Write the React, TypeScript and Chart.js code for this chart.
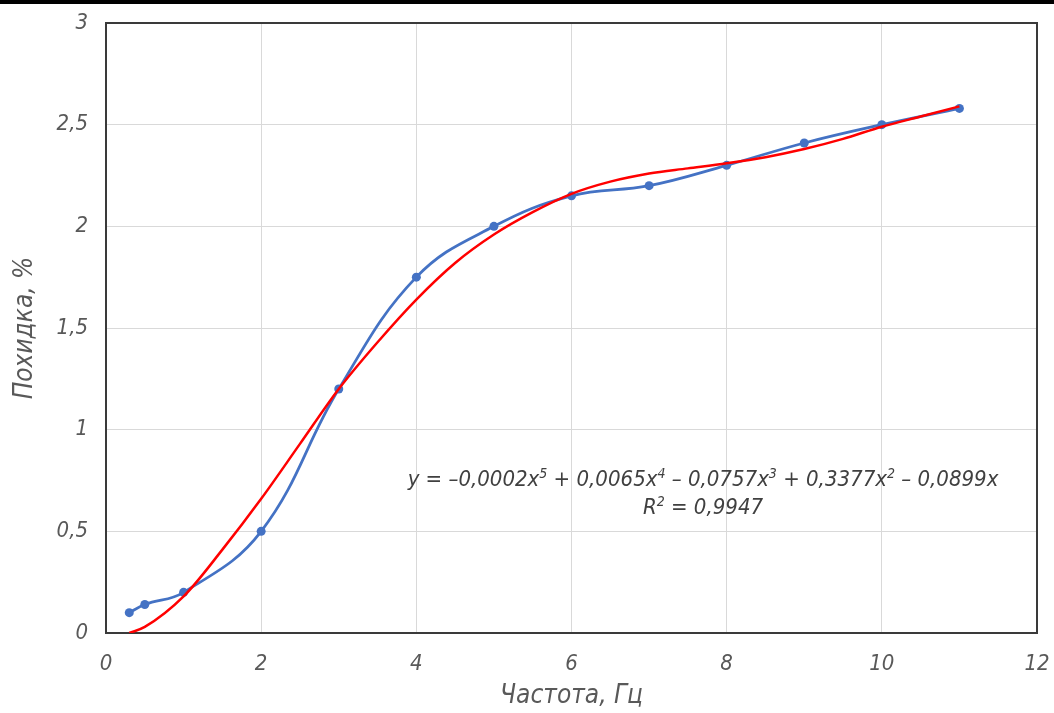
import React, { useEffect, useRef } from "react";
import { Chart, registerables } from "chart.js";

Chart.register(...registerables);

// Measured data (blue series)
const freqHz = [0.3, 0.5, 1, 2, 3, 4, 5, 6, 7, 8, 9, 10, 11];
const deflectionPct = [0.1, 0.14, 0.2, 0.5, 1.2, 1.75, 2.0, 2.15, 2.2, 2.3, 2.41, 2.5, 2.58];

// Polynomial trend line (red)
const trendX = [0.3, 0.5, 1, 1.5, 2, 2.5, 3, 3.5, 4, 4.5, 5, 5.5, 6, 6.5, 7, 7.5, 8, 8.5, 9, 9.5, 10, 10.5, 11];
const trendY = [0.0, 0.03, 0.18, 0.41, 0.66, 0.93, 1.2, 1.43, 1.64, 1.82, 1.96, 2.07, 2.16, 2.22, 2.26, 2.285, 2.31, 2.34, 2.38, 2.43, 2.49, 2.54, 2.59];

// Axis ticks
const xTicks = [0, 2, 4, 6, 8, 10, 12];
const yTicks = [0, 0.5, 1, 1.5, 2, 2.5, 3];

// Texts
const xTitle = "Частота, Гц";
const yTitle = "Похидка, %";
// odd indices are superscripts
const eqParts = ["y = –0,0002x", "5", " + 0,0065x", "4", " – 0,0757x", "3", " + 0,3377x", "2", " – 0,0899x"];
const r2Parts = ["R", "2", " = 0,9947"];

const FONT = '"Liberation Sans Narrow", "DejaVu Sans Condensed", "Liberation Sans", sans-serif';
const GREY = "#595959";

function drawRich(ctx: CanvasRenderingContext2D, parts: string[], cx: number, cy: number, size: number) {
  const main = `italic ${size}px ${FONT}`;
  const sup = `italic ${Math.round(size * 0.62)}px ${FONT}`;
  let total = 0;
  const widths = parts.map((p, i) => {
    ctx.font = i % 2 ? sup : main;
    const w = ctx.measureText(p).width;
    total += w;
    return w;
  });
  let x = cx - total / 2;
  ctx.textBaseline = "alphabetic";
  ctx.textAlign = "left";
  parts.forEach((p, i) => {
    ctx.font = i % 2 ? sup : main;
    const y = i % 2 ? cy - size * 0.38 : cy;
    ctx.fillText(p, x, y);
    x += widths[i];
  });
}

const decor = {
  id: "decor",
  beforeDraw(chart: any) {
    const ctx = chart.ctx as CanvasRenderingContext2D;
    ctx.save();
    ctx.fillStyle = "#ffffff";
    ctx.fillRect(0, 0, chart.width, chart.height);
    ctx.fillStyle = "#000000";
    ctx.fillRect(0, 0, chart.width, 4);
    ctx.restore();
  },
  beforeDatasetsDraw(chart: any) {
    const ctx = chart.ctx as CanvasRenderingContext2D;
    const a = chart.chartArea;
    ctx.save();
    ctx.strokeStyle = "#3a3a3a";
    ctx.lineWidth = 2;
    ctx.strokeRect(a.left, a.top, a.right - a.left, a.bottom - a.top);
    ctx.restore();
  },
  afterDatasetsDraw(chart: any) {
    const ctx = chart.ctx as CanvasRenderingContext2D;
    ctx.save();
    ctx.fillStyle = "#404040";
    drawRich(ctx, eqParts, 703, 486, 22);
    drawRich(ctx, r2Parts, 703, 514, 22);
    ctx.restore();
  },
};

function zeroPad(s: any) {
  s.paddingTop = 0;
  s.paddingBottom = 0;
  s.paddingLeft = 0;
  s.paddingRight = 0;
}

export default function App() {
  const ref = useRef<HTMLCanvasElement | null>(null);

  useEffect(() => {
    if (!ref.current) return;
    const tickFont = { family: FONT, size: 22, style: "italic" as const };
    const chart = new Chart(ref.current, {
      type: "line",
      data: {
        datasets: [
          {
            label: "Похидка",
            data: freqHz.map((x, i) => ({ x, y: deflectionPct[i] })),
            borderColor: "#4472C4",
            backgroundColor: "#4472C4",
            borderWidth: 2.75,
            pointRadius: 4.5,
            pointBorderWidth: 0,
            tension: 0.4,
            order: 2,
          },
          {
            label: "Тренд",
            data: trendX.map((x, i) => ({ x, y: trendY[i] })),
            borderColor: "#FF0000",
            backgroundColor: "#FF0000",
            borderWidth: 2.5,
            pointRadius: 0,
            cubicInterpolationMode: "monotone",
            order: 1,
          },
        ],
      },
      options: {
        responsive: false,
        animation: false,
        layout: { padding: { top: 23, right: 17, left: 0, bottom: 0 } },
        plugins: { legend: { display: false }, tooltip: { enabled: false } },
        scales: {
          x: {
            type: "linear",
            min: 0,
            max: 12,
            afterBuildTicks: (s: any) => {
              s.ticks = xTicks.map((v) => ({ value: v }));
            },
            afterFit: (s: any) => {
              s.height = 80;
              zeroPad(s);
            },
            grid: { color: "#d9d9d9", lineWidth: 1, drawTicks: false },
            border: { display: false },
            ticks: {
              color: GREY,
              font: tickFont,
              padding: 18,
              maxRotation: 0,
              callback: (v: any) => String(v).replace(".", ","),
            },
            title: {
              display: true,
              text: xTitle,
              color: GREY,
              font: { family: FONT, size: 26, style: "italic" },
              padding: { top: 0, bottom: 1 },
            },
          },
          y: {
            type: "linear",
            min: 0,
            max: 3,
            afterBuildTicks: (s: any) => {
              s.ticks = yTicks.map((v) => ({ value: v }));
            },
            afterFit: (s: any) => {
              s.width = 106;
              zeroPad(s);
            },
            grid: { color: "#d9d9d9", lineWidth: 1, drawTicks: false },
            border: { display: false },
            ticks: {
              color: GREY,
              font: tickFont,
              padding: 18,
              callback: (v: any) => String(v).replace(".", ","),
            },
            title: {
              display: true,
              text: yTitle,
              color: GREY,
              font: { family: FONT, size: 26, style: "italic" },
              padding: { top: 10, bottom: 0 },
            },
          },
        },
      },
      plugins: [decor],
    });
    return () => chart.destroy();
  }, []);

  return (
    <div style={{ position: "fixed", left: 0, top: 0, width: 1054, height: 713, background: "#fff" }}>
      <canvas ref={ref} width={1054} height={713} style={{ display: "block" }} />
    </div>
  );
}
